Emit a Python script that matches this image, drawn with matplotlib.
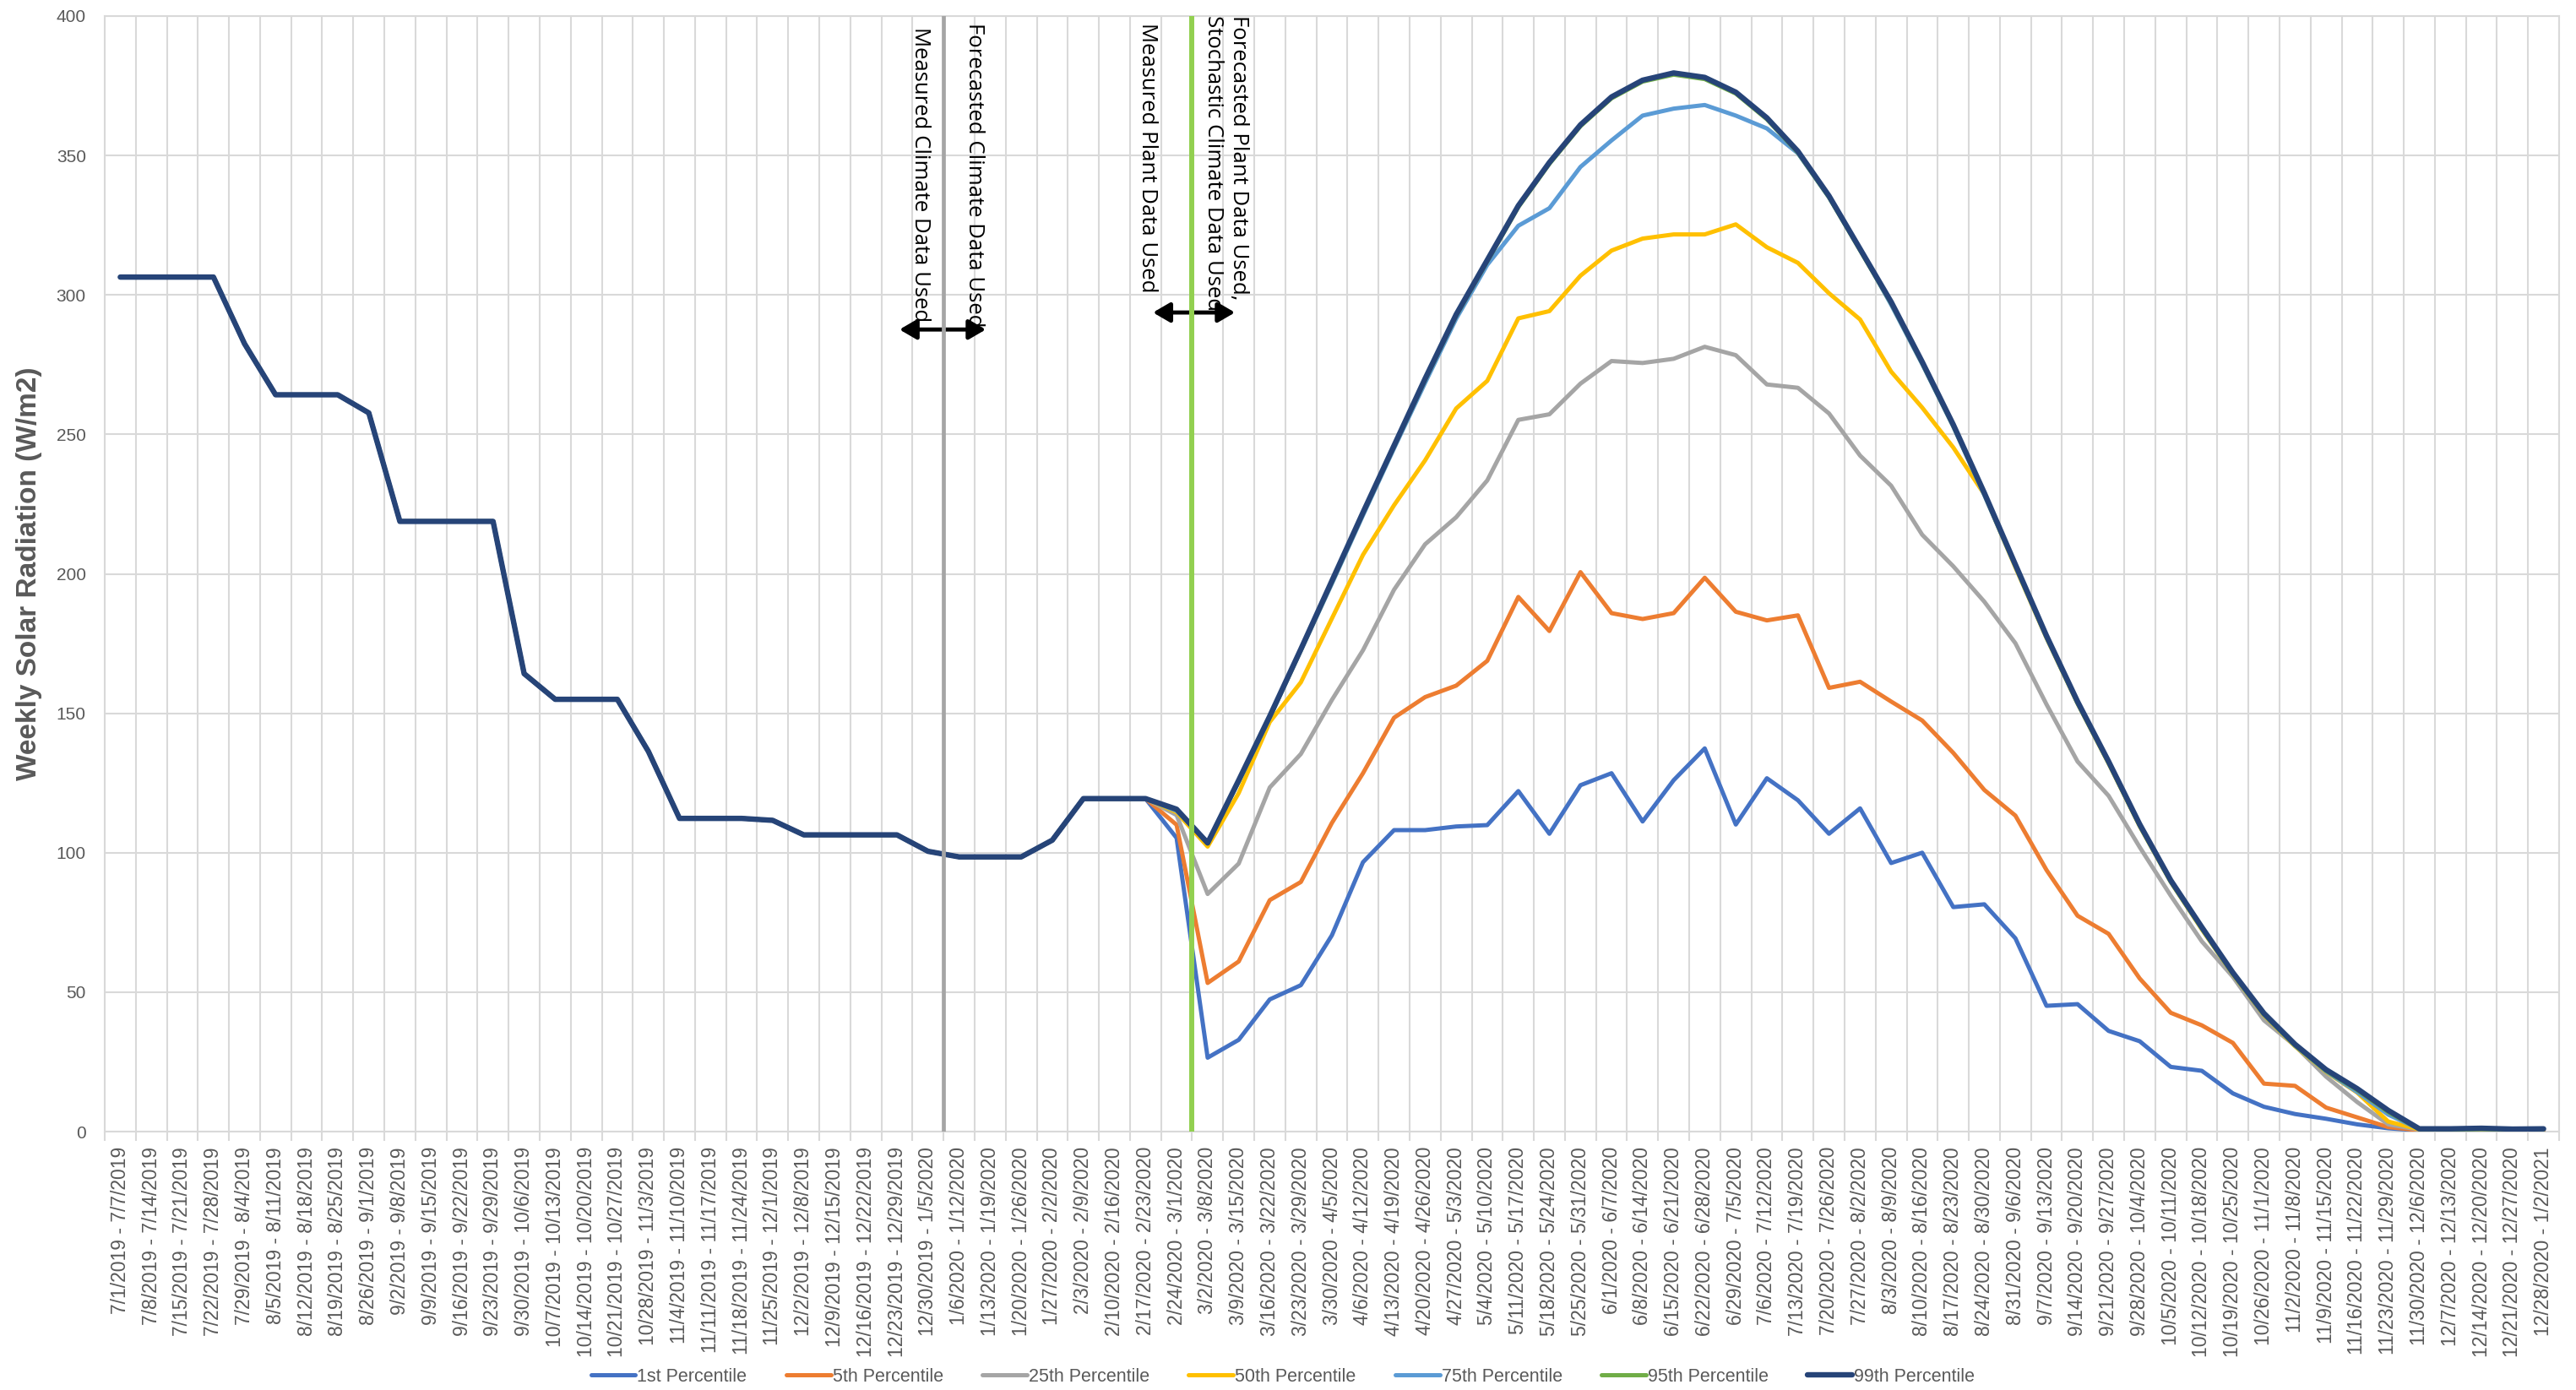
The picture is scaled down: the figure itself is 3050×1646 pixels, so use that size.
from datetime import date, timedelta

import matplotlib
matplotlib.use("Agg")
import matplotlib.pyplot as plt
from matplotlib import font_manager


# weekly periods, Monday to Sunday; the last one is cut at the end of the run
first_monday = date(2019, 7, 1)
last_day = date(2021, 1, 2)
n_weeks = 79
week_starts = [first_monday + timedelta(weeks=k) for k in range(n_weeks)]
week_ends = [min(d + timedelta(days=6), last_day) for d in week_starts]


def fmt(d):
    return f"{d.month}/{d.day}/{d.year}"


week_labels = [f"{fmt(a)} - {fmt(b)}" for a, b in zip(week_starts, week_ends)]

# measured weeks (7/1/2019 .. 2/17/2020), shared by every percentile
measured = [306.4, 306.4, 306.4, 306.4, 282.5, 264.2, 264.2, 264.2, 257.7,
            218.8, 218.8, 218.8, 218.8, 164.2, 155.0, 155.0, 155.0, 136.3,
            112.3, 112.3, 112.3, 111.6, 106.4, 106.4, 106.4, 106.4, 100.5,
            98.5, 98.5, 98.5, 104.5, 119.4, 119.4, 119.4]

# stochastic weeks (2/24/2020 .. 12/28/2020)
p1 = [105.3, 26.5, 32.9, 47.4, 52.5, 70.4, 96.6, 108.1, 108.1, 109.4,
      109.9, 122.1, 106.8, 124.2, 128.5, 111.2, 126.0, 137.4, 110.1, 126.7,
      118.8, 106.8, 115.9, 96.3, 100.0, 80.5, 81.5, 69.3, 45.1, 45.7,
      36.1, 32.4, 23.2, 21.8, 13.7, 8.9, 6.3, 4.6, 2.6, 1.2,
      0.4, 0.4, 0.5, 0.4, 0.4]
p5 = [110.0, 53.3, 61.0, 83.0, 89.5, 110.7, 128.5, 148.4, 155.8, 159.9,
      168.8, 191.7, 179.5, 200.6, 185.9, 183.8, 185.9, 198.6, 186.4, 183.3,
      185.1, 159.1, 161.3, 154.2, 147.4, 135.8, 122.5, 113.3, 93.8, 77.4,
      70.9, 54.9, 42.6, 38.1, 31.8, 17.2, 16.4, 8.6, 5.1, 1.6,
      0.5, 0.5, 0.6, 0.5, 0.5]
p25 = [113.5, 85.2, 96.1, 123.4, 135.4, 154.8, 172.6, 194.3, 210.6, 220.3,
       233.5, 255.2, 257.2, 268.2, 276.3, 275.6, 277.1, 281.4, 278.4, 267.9,
       266.7, 257.5, 242.4, 231.6, 214.0, 202.7, 190.0, 175.1, 153.2, 132.7,
       120.4, 102.0, 84.6, 68.2, 55.5, 39.9, 30.8, 19.7, 10.6, 2.6,
       0.7, 0.6, 0.8, 0.6, 0.7]
p50 = [114.5, 102.2, 121.4, 146.9, 161.1, 184.0, 206.8, 224.6, 240.7, 259.3,
       269.2, 291.6, 294.2, 306.9, 315.9, 320.2, 321.7, 321.7, 325.3, 317.1,
       311.5, 300.6, 291.2, 272.5, 259.6, 245.3, 228.5, 202.3, 177.0, 153.5,
       132.0, 109.5, 89.5, 72.5, 56.4, 41.7, 30.6, 21.4, 14.0, 3.6,
       0.8, 0.7, 0.9, 0.7, 0.8]
p75 = [115.0, 103.8, 125.5, 148.5, 172.5, 196.5, 221.0, 245.0, 268.5, 291.5,
       310.8, 324.8, 331.1, 345.9, 355.4, 364.3, 366.8, 368.1, 364.3, 359.7,
       350.8, 335.0, 316.5, 296.5, 275.2, 252.8, 228.2, 202.7, 177.2, 153.6,
       132.2, 109.7, 89.6, 72.8, 56.6, 41.9, 30.8, 21.6, 14.2, 6.1,
       0.9, 0.8, 1.0, 0.8, 0.9]
p95 = [115.4, 103.3, 125.6, 148.6, 172.6, 197.0, 221.6, 245.6, 269.5, 292.5,
       312.0, 331.5, 347.0, 360.5, 370.5, 376.5, 379.0, 377.4, 372.2, 363.0,
       351.0, 335.0, 316.0, 297.0, 275.5, 253.0, 228.6, 202.8, 177.3, 153.7,
       132.2, 109.7, 89.6, 72.8, 56.5, 42.0, 30.9, 21.8, 14.9, 7.0,
       0.8, 0.7, 0.9, 0.7, 0.8]
p99 = [115.6, 103.5, 126.0, 149.0, 173.0, 197.5, 222.0, 246.0, 270.0, 293.0,
       312.5, 332.0, 347.5, 361.0, 371.0, 377.0, 379.6, 378.0, 372.7, 363.5,
       351.5, 335.5, 316.5, 297.5, 276.0, 253.5, 229.0, 203.3, 177.8, 154.2,
       132.7, 110.2, 90.1, 73.3, 57.0, 42.4, 31.3, 22.2, 15.4, 7.6,
       1.0, 1.0, 1.2, 0.9, 1.0]

series = [
    ("1st Percentile", p1, "#4472C4"),
    ("5th Percentile", p5, "#ED7D31"),
    ("25th Percentile", p25, "#A5A5A5"),
    ("50th Percentile", p50, "#FFC000"),
    ("75th Percentile", p75, "#5B9BD5"),
    ("95th Percentile", p95, "#70AD47"),
    ("99th Percentile", p99, "#264478"),
]

installed = {f.name for f in font_manager.fontManager.ttflist}
narrow = "Liberation Sans Narrow" if "Liberation Sans Narrow" in installed else "Liberation Sans"
grey_text = "#595959"
grid_col = "#D9D9D9"

fig = plt.figure(figsize=(30.5, 16.46), dpi=100)
ax = fig.add_axes([124 / 3050, 1 - 1340 / 1646, 2906 / 3050, 1321 / 1646])

x = list(range(n_weeks))
for name, values, color in series:
    lw = 4.6 if name.startswith("99") else 3.6
    ax.plot(x, measured + values, color=color, lw=lw, label=name,
            solid_joinstyle="round", solid_capstyle="round", zorder=3)

ax.set_xlim(-0.5, n_weeks - 0.5)
ax.set_ylim(0, 400)
ax.set_yticks(range(0, 401, 50))
ax.set_xticks(x)
ax.set_xticklabels(week_labels, rotation=90, fontsize=16.5, color=grey_text,
                   family="Liberation Sans")
ax.set_xticks([k - 0.5 for k in range(n_weeks + 1)], minor=True)
for lab in ax.get_yticklabels():
    lab.set_fontsize(15)
    lab.set_color(grey_text)
    lab.set_family("Liberation Sans")

ax.tick_params(axis="x", which="major", length=0, pad=13)
ax.tick_params(axis="x", which="minor", length=8, width=1.5, color=grid_col)
ax.tick_params(axis="y", length=0, pad=16)
ax.grid(which="minor", axis="x", color=grid_col, lw=1.5, zorder=0)
ax.grid(which="major", axis="y", color=grid_col, lw=1.5, zorder=0)
for sp in ax.spines.values():
    sp.set_color(grid_col)
    sp.set_linewidth(1.5)
ax.set_axisbelow(True)

fig.text(35 / 3050, 1 - 679 / 1646, "Weekly Solar Radiation (W/m2)", rotation=90,
         ha="center", va="center", fontsize=24, fontweight="bold",
         color=grey_text, family=narrow)

# switch-over markers between measured and forecasted inputs
ax.axvline(26.5, color="#A5A5A5", lw=3.4, zorder=5)
ax.axvline(34.5, color="#92D050", lw=4.3, zorder=5)

arrow = dict(arrowstyle="<|-|>,head_length=0.6,head_width=0.35", color="black",
             lw=3.5, shrinkA=0, shrinkB=0, mutation_scale=20)
ax.annotate("", xy=(25.08, 287.6), xytext=(27.86, 287.6), arrowprops=arrow, zorder=4)
ax.annotate("", xy=(33.24, 293.7), xytext=(35.88, 293.7), arrowprops=arrow, zorder=4)

note = dict(rotation=270, ha="center", va="top", fontsize=18.5,
            family="Open Sans", color="black", zorder=6)
ax.text(25.76, 396, "Measured Climate Data Used", **note)
ax.text(27.48, 397.6, "Forecasted Climate Data Used", **note)
ax.text(33.05, 397.6, "Measured Plant Data Used", **note)
ax.text(35.58, 400.3, "Forecasted Plant Data Used,\nStochastic Climate Data Used",
        multialignment="left", linespacing=1.25, **note)

leg = fig.legend(loc="center", bbox_to_anchor=(0.498, 0.0097), ncol=7,
                 frameon=False, handlelength=2.45, handletextpad=0.1,
                 columnspacing=2.15, prop={"family": narrow, "size": 15.5})
for t in leg.get_texts():
    t.set_color(grey_text)

fig.savefig("out.png", dpi=100)
